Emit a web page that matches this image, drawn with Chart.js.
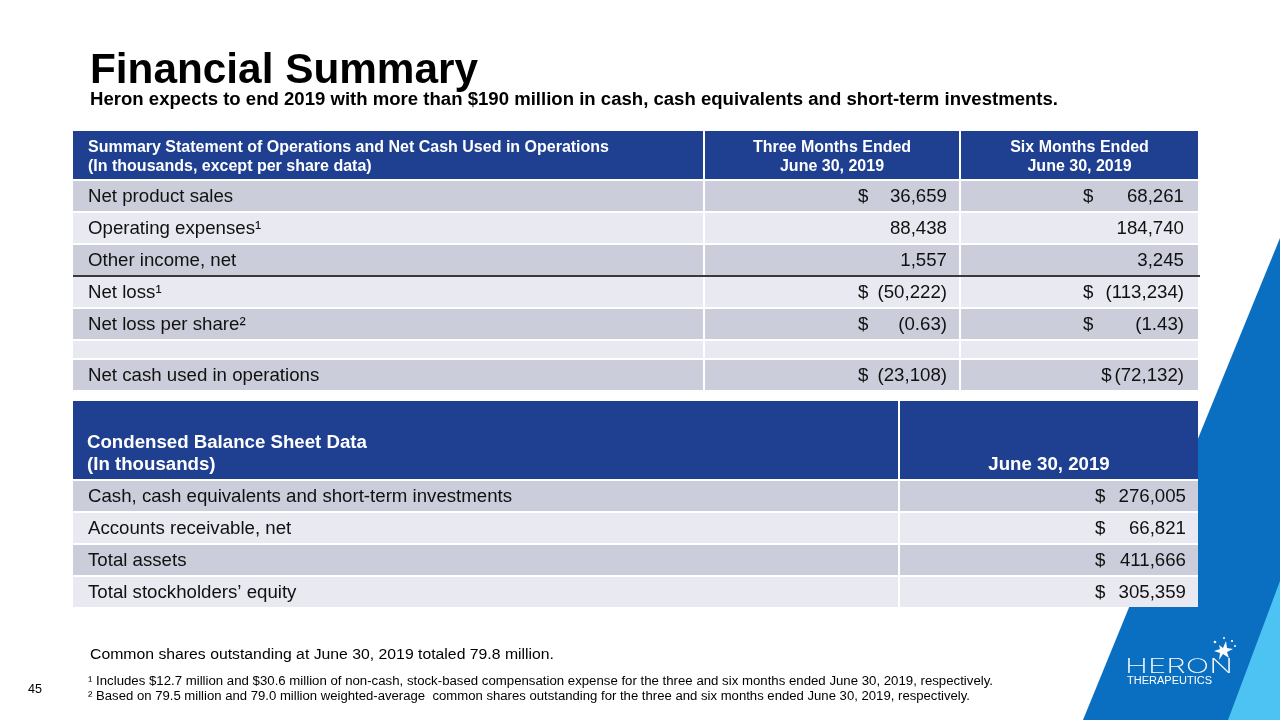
<!DOCTYPE html>
<html>
<head>
<meta charset="utf-8">
<title>Financial Summary</title>
<script src="https://cdn.jsdelivr.net/npm/chart.js@4.4.1/dist/chart.umd.min.js"></script>
<style>
  html, body { margin: 0; padding: 0; background: #fff; }
  body { position: relative; width: 1280px; height: 720px; overflow: hidden; font-family: "Liberation Sans", Arial, sans-serif; color: #000; }
  .band { position: absolute; left: 0; top: 0; width: 1280px; height: 720px; }
  #band1 { background: #0b6fc1; clip-path: polygon(1280px 238px, 1280px 720px, 1083px 720px); }
  #band2 { background: #4dc3f3; clip-path: polygon(1280px 581px, 1280px 720px, 1228px 720px); }
  #chart { position: absolute; left: 0; top: 0; }
  .txt { position: absolute; white-space: pre; transform-origin: 0 0; line-height: 1; }
  #title { left: 90px; top: 47px; font-size: 42.67px; font-weight: bold; }
  #subtitle { left: 90px; top: 90px; font-size: 18.67px; font-weight: bold; }
  .narrow { font-family: "Liberation Sans Narrow", "Liberation Sans", Arial, sans-serif; }
  #shares { left: 90px; top: 647px; font-size: 14.67px; }
  #fn1 { left: 88px; top: 675px; font-size: 12px; }
  #fn2 { left: 88px; top: 690px; font-size: 12px; }
  #page { left: 28px; top: 682px; font-size: 13px; }
  #heron { left: 1125px; top: 657px; font-size: 19.6px; color: #fff; font-family: Inter, "Liberation Sans", sans-serif; font-weight: 200; }
  #thera { left: 1127px; top: 676px; font-size: 10px; color: #fff; }
</style>
</head>
<body>
<div class="band" id="band1"></div>
<div class="band" id="band2"></div>
<canvas id="chart" width="1280" height="720"></canvas>

<div class="txt" id="title" data-w="388">Financial Summary</div>
<div class="txt" id="subtitle" data-w="968">Heron expects to end 2019 with more than $190 million in cash, cash equivalents and short-term investments.</div>
<div class="txt narrow" id="shares" data-w="464">Common shares outstanding at June 30, 2019 totaled 79.8 million.</div>
<div class="txt narrow" id="fn1" data-w="905">¹ Includes $12.7 million and $30.6 million of non-cash, stock-based compensation expense for the three and six months ended June 30, 2019, respectively.</div>
<div class="txt narrow" id="fn2" data-w="882">² Based on 79.5 million and 79.0 million weighted-average  common shares outstanding for the three and six months ended June 30, 2019, respectively.</div>
<div class="txt narrow" id="page" data-w="14">45</div>
<div class="txt" id="heron" data-w="108">HERON</div>
<div class="txt" id="thera" data-w="85">THERAPEUTICS</div>
<svg style="position:absolute;left:1210px;top:636px" width="30" height="28">
  <path d="M9 9 L13 12 L16 5 L17 12 L23 13 L17 16 L19 22 L13 18 L9 24 L10 17 L4 15 L10 13 Z" fill="#fff"/>
  <circle cx="5" cy="6" r="1.3" fill="#fff"/>
  <circle cx="22" cy="5" r="1.1" fill="#fff"/>
  <circle cx="25" cy="10" r="1" fill="#fff"/>
  <circle cx="14" cy="2" r="1" fill="#fff"/>
</svg>

<script>
// Summary statement of operations (in thousands, except per share data)
const opsHeader = [
  'Summary Statement of Operations and Net Cash Used in Operations\n(In thousands, except per share data)',
  'Three Months Ended\nJune 30, 2019',
  'Six Months Ended\nJune 30, 2019'
];
const opsLabels = ['Net product sales', 'Operating expenses¹', 'Other income, net', 'Net loss¹',
  'Net loss per share²', '', 'Net cash used in operations'];
const threeMonths = [36659, 88438, 1557, -50222, -0.63, null, -23108];
const sixMonths = [68261, 184740, 3245, -113234, -1.43, null, -72132];
const threeDollar = ['wide', '', '', 'wide', 'wide', '', 'wide'];
const sixDollar = ['wide', '', '', 'wide', 'wide', '', 'tight'];

// Condensed balance sheet data (in thousands)
const balHeader = ['Condensed Balance Sheet Data\n(In thousands)', 'June 30, 2019'];
const balLabels = ['Cash, cash equivalents and short-term investments', 'Accounts receivable, net',
  'Total assets', 'Total stockholders’ equity'];
const balValues = [276005, 66821, 411666, 305359];
const balDollar = ['wide', 'wide', 'wide', 'wide'];

// layout, in page pixels
const GAP = 2;
const opsLayout = { left: [73, 705, 961], right: 1198, top: 131, rows: [50, 32, 32, 32, 32, 32, 19, 32], ruleAfter: 4 };
const balLayout = { left: [73, 900], right: 1198, top: 401, rows: [80, 32, 32, 32, 32] };

const HEAD_BLUE = '#1f4091';
const SHADE_DARK = '#cbcdda';
const SHADE_LIGHT = '#e8e9f1';
const FONT = "'Liberation Sans', Arial, sans-serif";

function fmt(v) {
  const s = Math.abs(v).toLocaleString('en-US', { minimumFractionDigits: Number.isInteger(v) ? 0 : 2 });
  return v < 0 ? '(' + s + ')' : s;
}

function label(text) {
  return { lines: [text], padLeft: 15, font: '18.67px ' + FONT };
}
function value(v, dollar, dollarAt, padRight) {
  return { value: v, dollar: dollar, dollarAt: dollarAt, padRight: padRight, font: '18.67px ' + FONT };
}

// rows of the first table
const opsRows = [{
  fill: HEAD_BLUE,
  cells: opsHeader.map((t, k) => ({
    lines: t.split('\n'), align: k === 0 ? 'left' : 'center', padLeft: 15,
    lineGap: 18.5, shift: 1.5, color: '#fff', font: 'bold 16px ' + FONT
  }))
}].concat(opsLabels.map((t, r) => ({
  fill: r % 2 === 0 ? SHADE_DARK : SHADE_LIGHT,
  cells: [label(t), value(threeMonths[r], threeDollar[r], 153, 12), value(sixMonths[r], sixDollar[r], 122, 14)]
})));

// rows of the second table
const balRows = [{
  fill: HEAD_BLUE,
  cells: balHeader.map((t, k) => ({
    lines: t.split('\n'), align: k === 0 ? 'left' : 'center', padLeft: 14,
    valign: 'bottom', padBottom: 14.5, lineGap: 22, color: '#fff', font: 'bold 18.67px ' + FONT
  }))
}].concat(balLabels.map((t, r) => ({
  fill: r % 2 === 0 ? SHADE_DARK : SHADE_LIGHT,
  cells: [label(t), value(balValues[r], balDollar[r], 195, 12)]
})));

function tableDatasets(layout, rows) {
  const sets = [];
  let y = layout.top;
  rows.forEach((row, r) => {
    const h = layout.rows[r] - GAP;
    const data = row.cells.map((c, k) => {
      const x0 = layout.left[k];
      const x1 = k < layout.left.length - 1 ? layout.left[k + 1] - GAP : layout.right;
      return Object.assign({ x: [x0, x1], y: y + h / 2 }, c);
    });
    sets.push({ data: data, backgroundColor: row.fill, barThickness: h, grouped: false, order: 5 });
    if (layout.ruleAfter === r + 1) {
      // dark rule between "Other income, net" and "Net loss"
      sets.push({ data: [{ x: [layout.left[0], layout.right + 2], y: y + layout.rows[r] - GAP / 2 }],
        backgroundColor: '#3a3a3a', barThickness: 2, grouped: false, order: 1 });
    }
    y += layout.rows[r];
  });
  // white backing keeps the gaps white where the table sits on the blue band
  sets.push({ data: [{ x: [layout.left[0], layout.right], y: (layout.top + y - GAP) / 2 }],
    backgroundColor: '#fff', barThickness: y - GAP - layout.top, grouped: false, order: 9 });
  return sets;
}

const cellText = {
  id: 'cellText',
  afterDatasetsDraw(chart) {
    const ctx = chart.ctx;
    chart.data.datasets.forEach((ds, i) => {
      chart.getDatasetMeta(i).data.forEach((bar, j) => {
        const c = ds.data[j];
        const p = bar.getProps(['x', 'y', 'base', 'height'], true);
        const left = Math.min(p.x, p.base), right = Math.max(p.x, p.base);
        const bottom = p.y + p.height / 2;
        ctx.save();
        ctx.fillStyle = c.color || '#111';
        ctx.font = c.font || '18.67px ' + FONT;
        ctx.textBaseline = 'middle';
        if (c.lines) {
          const n = c.lines.length;
          ctx.textAlign = c.align || 'left';
          const tx = c.align === 'center' ? (left + right) / 2 : left + c.padLeft;
          c.lines.forEach((ln, k) => {
            const ty = c.valign === 'bottom'
              ? bottom - c.padBottom - (n - 1 - k) * c.lineGap
              : p.y + (k - (n - 1) / 2) * (c.lineGap || 0) + (c.shift || 0) + 0.5;
            ctx.fillText(ln, tx, ty);
          });
        }
        if (c.value !== undefined && c.value !== null) {
          const s = fmt(c.value);
          const rx = right - c.padRight;
          const ty = p.y + 0.5;
          ctx.textAlign = 'right';
          ctx.fillText(s, rx, ty);
          ctx.textAlign = 'left';
          if (c.dollar === 'wide') {
            ctx.fillText('$', left + c.dollarAt, ty);
          } else if (c.dollar === 'tight') {
            ctx.fillText('$', rx - ctx.measureText(s).width - ctx.measureText('$').width - 3, ty);
          }
        }
        ctx.restore();
      });
    });
  }
};

const ctx = document.getElementById('chart').getContext('2d');
const chart = new Chart(ctx, {
  type: 'bar',
  data: { datasets: tableDatasets(opsLayout, opsRows).concat(tableDatasets(balLayout, balRows)) },
  options: {
    indexAxis: 'y',
    responsive: false,
    animation: false,
    events: [],
    devicePixelRatio: 1,
    layout: { padding: 0 },
    datasets: { bar: { borderWidth: 0, inflateAmount: 0 } },
    scales: {
      x: { type: 'linear', min: 0, max: 1280, offset: false, display: false },
      y: { type: 'linear', min: 0, max: 720, reverse: true, offset: false, display: false }
    },
    plugins: { legend: { display: false }, tooltip: { enabled: false }, title: { display: false } }
  },
  plugins: [cellText]
});

// squeeze the slide texts to the widths they have in the original
document.querySelectorAll('[data-w]').forEach(el => {
  const w = el.getBoundingClientRect().width;
  el.style.transform = 'scaleX(' + (el.dataset.w / w) + ')';
});
</script>
</body>
</html>
